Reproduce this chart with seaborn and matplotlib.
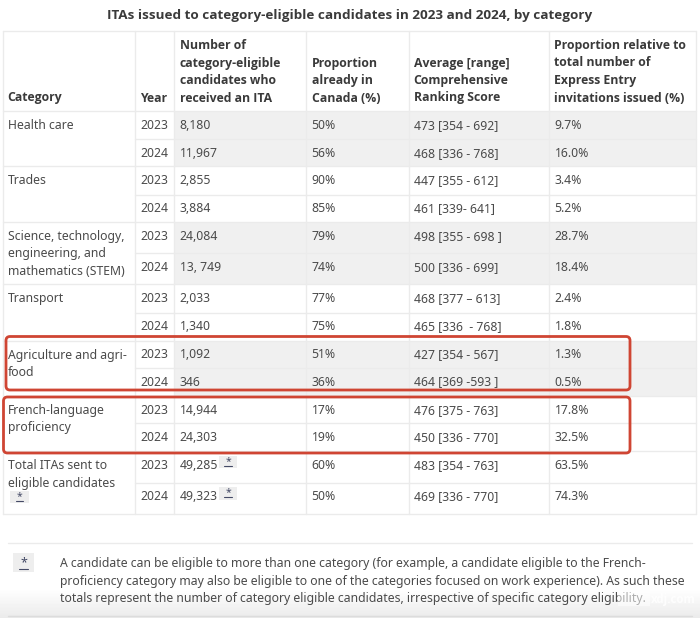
import matplotlib
matplotlib.use("Agg")
import matplotlib.pyplot as plt
from matplotlib.patches import FancyBboxPatch, Rectangle
import numpy as np
import seaborn as sns

title = "ITAs issued to category-eligible candidates in 2023 and 2024, by category"
headers = ["Category", "Year", "Number of\ncategory-eligible\ncandidates who\nreceived an ITA",
           "Proportion\nalready in\nCanada (%)", "Average [range]\nComprehensive\nRanking Score",
           "Proportion relative to\ntotal number of\nExpress Entry\ninvitations issued (%)"]
categories = ["Health care", "Trades", "Science, technology,\nengineering, and\nmathematics (STEM)", "Transport",
              "Agriculture and agri-\nfood", "French-language\nproficiency", "Total ITAs sent to\neligible candidates"]
years = ["2023", "2024"] * 7
itas = ["8,180", "11,967", "2,855", "3,884", "24,084", "13, 749", "2,033", "1,340",
        "1,092", "346", "14,944", "24,303", "49,285", "49,323"]
in_canada = ["50%", "56%", "90%", "85%", "79%", "74%", "77%", "75%", "51%", "36%", "17%", "19%", "60%", "50%"]
crs = ["473 [354 - 692]", "468 [336 - 768]", "447 [355 - 612]", "461 [339- 641]", "498 [355 - 698 ]",
       "500 [336 - 699]", "468 [377 – 613]", "465 [336  - 768]", "427 [354 - 567]", "464 [369 -593 ]",
       "476 [375 - 763]", "450 [336 - 770]", "483 [354 - 763]", "469 [336 - 770]"]
share = ["9.7%", "16.0%", "3.4%", "5.2%", "28.7%", "18.4%", "2.4%", "1.8%", "1.3%", "0.5%",
         "17.8%", "32.5%", "63.5%", "74.3%"]
footnote = ["A candidate can be eligible to more than one category (for example, a candidate eligible to the French-",
            "proficiency category may also be eligible to one of the categories focused on work experience). As such these",
            "totals represent the number of category eligible candidates, irrespective of specific category eligibility."]
watermark = "xdj.com"

# layout in pixels
col_x = [2.5, 135.3, 174.3, 306.3, 408.5, 549.3, 696]
row_y = [111, 139, 166, 194.5, 222, 253, 284, 312.5, 340.5, 367.5, 396, 423, 451, 482.5, 513.5]
top_y = 31
group_starts = [0, 2, 4, 6, 8, 10, 12]
shaded = [0, 2, 4]
text_c = "#4a4a4a"
head_c = "#3a3a3a"
line_c = "#ebebeb"

sns.set_theme(style="white")
plt.rcParams["font.family"] = ["Noto Sans", "DejaVu Sans"]
fig, ax = plt.subplots(figsize=(7, 6.18), dpi=100)
ax.set_position([0, 0, 1, 1])
ax.set_xlim(0, 700)
ax.set_ylim(618, 0)
ax.axis("off")
sns.despine(ax=ax, left=True, bottom=True)

fs = 8.8
bold = dict(family=["Open Sans", "DejaVu Sans"], fontweight="bold")
ax.text(349.5, 15.5, title, ha="center", va="center", fontsize=9.7, color=head_c, **bold)

# bands
for g in shaded:
    a = group_starts[g]
    ax.add_patch(Rectangle((col_x[2], row_y[a]), col_x[-1] - col_x[2], row_y[a + 2] - row_y[a],
                           fc="#f0f0f0", ec="none", zorder=1))

# grid
for x in col_x:
    ax.plot([x, x], [top_y, row_y[-1]], color=line_c, lw=1, zorder=2)
ax.plot([col_x[0], col_x[-1]], [top_y, top_y], color=line_c, lw=1, zorder=2)
for i, y in enumerate(row_y):
    x0 = col_x[0] if i % 2 == 0 else col_x[1]
    ax.plot([x0, col_x[-1]], [y, y], color=line_c, lw=1, zorder=2)

# header
pad = 5.2
head_bottom = 98
for j, h in enumerate(headers):
    for k, line in enumerate(reversed(h.split("\n"))):
        ax.text(col_x[j] + pad, head_bottom - k * 17.5, line, ha="left", va="center",
                fontsize=fs, color=head_c, zorder=4, **bold)

# body
for i in range(14):
    yc = row_y[i] + 14.5
    for j, values in zip([1, 2, 3, 4, 5], [years, itas, in_canada, crs, share]):
        ax.text(col_x[j] + pad, yc, values[i], ha="left", va="center", fontsize=fs, color=text_c, zorder=4)
for g, cat in zip(group_starts, categories):
    for k, line in enumerate(cat.split("\n")):
        ax.text(col_x[0] + pad, row_y[g] + 14.5 + k * 17.5, line, ha="left", va="center",
                fontsize=fs, color=text_c, zorder=4)

# footnote markers
def marker(x0, y0, w, h, fsz):
    ax.add_patch(Rectangle((x0, y0), w, h, fc="#eeeeee", ec="none", zorder=3))
    ax.text(x0 + w / 2, y0 + h * 0.5, "*", ha="center", va="center", fontsize=fsz, color="#444a66", zorder=4)
    ax.plot([x0 + w * 0.3, x0 + w * 0.7], [y0 + h * 0.82] * 2, color="#444a66", lw=0.8, zorder=4)

marker(219, 456, 18, 12, 7.5)
marker(219, 486.5, 18, 13, 7.5)
marker(10, 491, 19, 12, 7.5)
marker(13, 553, 21, 19, 9)

# red highlights
for (x0, y0, x1, y1) in [(6, 336.5, 630, 390), (3.5, 397, 630, 453)]:
    ax.add_patch(FancyBboxPatch((x0 + 3, y0 + 3), x1 - x0 - 6, y1 - y0 - 6, boxstyle="round,pad=3,rounding_size=4",
                                fc="none", ec="#cf4533", lw=2.0, zorder=5))

# footnote section
ax.plot([8, 692], [543, 543], color=line_c, lw=1, zorder=2)
grad = np.linspace(1, 0.92, 30).reshape(-1, 1)
ax.imshow(grad, extent=(0, 700, 618, 588), cmap="gray", vmin=0, vmax=1, aspect="auto", zorder=0)
ax.set_xlim(0, 700)
ax.set_ylim(618, 0)
ax.plot([8, 692], [616, 616], color="#dcdcdc", lw=1, zorder=2)
for k, line in enumerate(footnote):
    ax.text(60, 563.5 + k * 17.5, line, ha="left", va="center", fontsize=fs, color=text_c, zorder=4)
# fade over the end of the last footnote line, where the reference's watermark sits
ax.add_patch(Rectangle((618, 590), 32, 16, fc="white", ec="none", alpha=0.55, zorder=5))
ax.text(651, 599, watermark, ha="left", va="center", fontsize=8.3, color="white", alpha=0.85, zorder=6, **bold)

fig.savefig("out.png", dpi=100, facecolor="white")
